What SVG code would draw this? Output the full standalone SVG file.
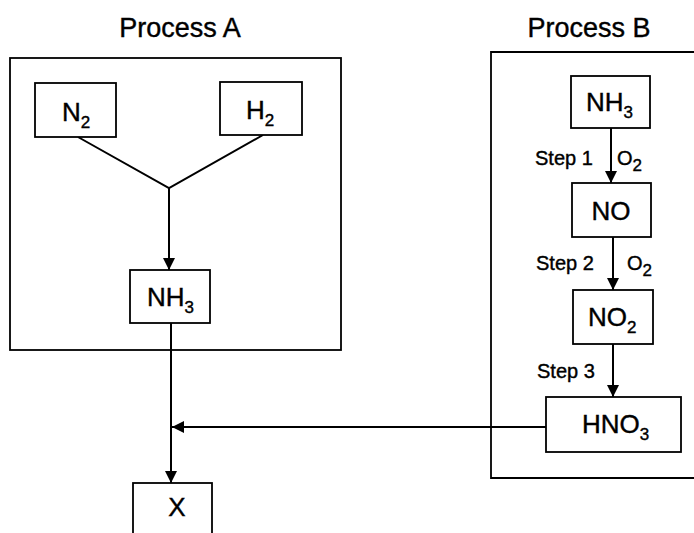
<svg xmlns="http://www.w3.org/2000/svg" width="694" height="533" viewBox="0 0 694 533">
  <style>
    .box { fill: #ffffff; stroke: #000000; stroke-width: 1.8; }
    .frame { fill: none; stroke: #000000; stroke-width: 1.8; }
    .line { fill: none; stroke: #000000; stroke-width: 2; }
    text { font-family: "Liberation Sans", Arial, sans-serif; fill: #000; stroke: #000; stroke-width: 0.4; }
    .title { font-size: 27px; }
    .lbl { font-size: 26px; }
    .step { font-size: 20px; }
    .sub { font-size: 17px; }
  </style>
  <defs>
    <marker id="arr" markerWidth="12" markerHeight="12" refX="10" refY="5" orient="auto" markerUnits="userSpaceOnUse" viewBox="0 0 10 10">
      <path d="M0,0 L10,5 L0,10 z" fill="#000"/>
    </marker>
  </defs>

  <g id="processA">
    <text class="title" x="180" y="37" text-anchor="middle">Process A</text>
    <rect class="frame" x="10" y="58" width="331" height="292"/>
  </g>
  <g id="processB">
    <text class="title" x="589" y="37" text-anchor="middle">Process B</text>
    <path class="frame" d="M700,52 L491,52 L491,478 L700,478"/>
  </g>

  <g id="connectors">
    <path class="line" d="M78,137 L169,188 L263,135"/>
    <path class="line" d="M169,188 L169,270" marker-end="url(#arr)"/>
    <path class="line" d="M171,323 L171,483" marker-end="url(#arr)"/>
    <path class="line" d="M546,427 L172,427" stroke-width="2.4" marker-end="url(#arr)"/>
    <path class="line" d="M611,128 L611,183" marker-end="url(#arr)"/>
    <path class="line" d="M613,237 L613,290" marker-end="url(#arr)"/>
    <path class="line" d="M613,344 L613,397" marker-end="url(#arr)"/>
  </g>

  <g id="N2">
    <rect class="box" x="35" y="83" width="81" height="54"/>
    <text class="lbl" x="62" y="121">N<tspan class="sub" dy="7">2</tspan></text>
  </g>
  <g id="H2">
    <rect class="box" x="220" y="82" width="82" height="53"/>
    <text class="lbl" x="246" y="119">H<tspan class="sub" dy="7">2</tspan></text>
  </g>
  <g id="NH3A">
    <rect class="box" x="130" y="270" width="80" height="53"/>
    <text class="lbl" x="147" y="306">NH<tspan class="sub" dy="7">3</tspan></text>
  </g>
  <g id="X">
    <rect class="box" x="133" y="483" width="79" height="60"/>
    <text class="lbl" x="177" y="516" text-anchor="middle">X</text>
  </g>

  <g id="NH3B">
    <rect class="box" x="571" y="76" width="79" height="52"/>
    <text class="lbl" x="586" y="111">NH<tspan class="sub" dy="7">3</tspan></text>
  </g>
  <g id="step1">
    <text class="step" x="535" y="165">Step 1</text>
    <text class="step" x="617" y="165">O<tspan class="sub" dy="6">2</tspan></text>
  </g>
  <g id="NO">
    <rect class="box" x="572" y="183" width="79" height="54"/>
    <text class="lbl" x="611" y="220" text-anchor="middle">NO</text>
  </g>
  <g id="step2">
    <text class="step" x="536" y="270">Step 2</text>
    <text class="step" x="627" y="270">O<tspan class="sub" dy="6">2</tspan></text>
  </g>
  <g id="NO2">
    <rect class="box" x="573" y="290" width="80" height="54"/>
    <text class="lbl" x="588" y="326">NO<tspan class="sub" dy="7">2</tspan></text>
  </g>
  <g id="step3">
    <text class="step" x="537" y="378">Step 3</text>
  </g>
  <g id="HNO3">
    <rect class="box" x="546" y="397" width="135" height="55"/>
    <text class="lbl" x="582" y="433">HNO<tspan class="sub" dy="7">3</tspan></text>
  </g>
</svg>
